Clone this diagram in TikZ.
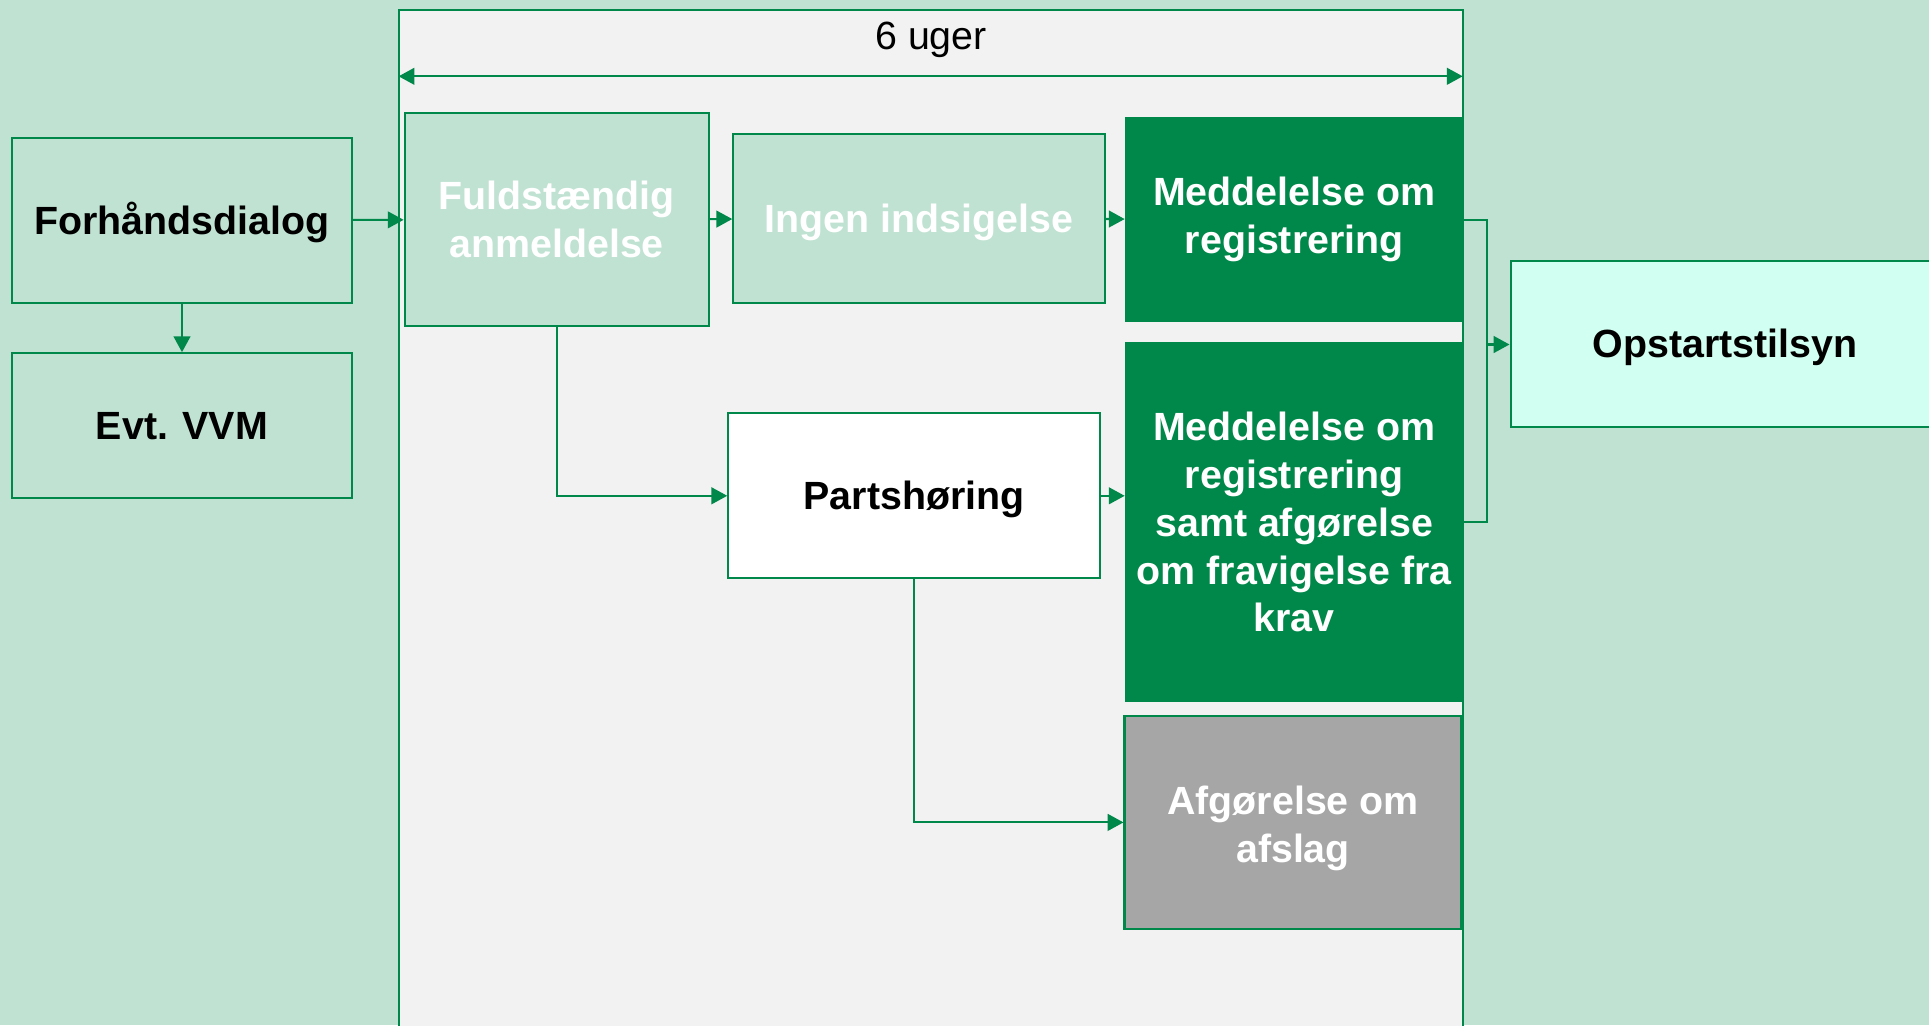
\documentclass[tikz,border=0pt]{standalone}
\usepackage{fontspec}
\setmainfont{Liberation Sans}
\usetikzlibrary{arrows.meta}

\definecolor{bggreen}{HTML}{BFE2D2}
\definecolor{panelgray}{HTML}{F2F2F2}
\definecolor{darkgreen}{HTML}{00884A}
\definecolor{linegreen}{HTML}{00884A}
\definecolor{rejectgray}{HTML}{A6A6A6}
\definecolor{mint}{HTML}{D1FFF1}

\newcommand{\boxfont}{\fontsize{22.4}{27.2}\selectfont}

\tikzset{
	box/.style={shape=rectangle, draw=linegreen, line width=1.2pt, align=center, inner sep=2pt, font=\boxfont\bfseries},
	oneline/.style={text height=16pt, text depth=0pt},
	arr/.style={-{Triangle[length=9pt,width=9.5pt]}, color=linegreen, line width=1.2pt},
	wire/.style={-, color=linegreen, line width=1.2pt},
}

\begin{document}
\begin{tikzpicture}[x=0.02cm, y=-0.02cm]
	
	\clip (0, 0) rectangle (1929, 1025);
	\fill[bggreen] (0, 0) rectangle (1929, 1025);
	
	\node[draw=linegreen, line width=1.2pt, fill=panelgray, minimum width=21.28cm, minimum height=20.60cm] (panel) at (930.65, 524.9) {};
	\node[font=\boxfont] (weeks) at (931, 40) {6 uger};
	
	\node[box, oneline, fill=bggreen, minimum width=6.79cm, minimum height=3.30cm] (forh) at (182, 220.2)    {Forhåndsdialog};
	\node[box, oneline, fill=bggreen, minimum width=6.79cm, minimum height=2.90cm] (vvm) at (182, 425.7)     {Evt. VVM};
	\node[box, fill=bggreen, text=white, minimum width=6.08cm, minimum height=4.26cm] (fuld) at (556.6, 219.6)   {Fuldstændig\\anmeldelse};
	\node[box, oneline, fill=bggreen, text=white, minimum width=7.43cm, minimum height=3.37cm] (ingen) at (919, 218.4)   {Ingen indsigelse};
	\node[box, draw=darkgreen, fill=darkgreen, text=white, minimum width=6.74cm, minimum height=4.06cm] (medd) at (1294.2, 219.6)   {Meddelelse om\\registrering};
	\node[box, draw=darkgreen, fill=darkgreen, text=white, minimum width=6.74cm, minimum height=7.16cm] (meddkrav) at (1294.2, 522.2)   {Meddelelse om\\registrering\\samt afgørelse\\om fravigelse fra\\krav};
	\node[box, oneline, fill=white, minimum width=7.43cm, minimum height=3.30cm] (parts) at (914, 495.8)     {Partshøring};
	\node[box, fill=rejectgray, text=white, minimum width=6.74cm, minimum height=4.26cm] (afslag) at (1293, 822.4)   {\rule{0pt}{23pt}Afgørelse om\\afslag};
	\node[box, oneline, fill=mint, minimum width=8.58cm, minimum height=3.32cm] (opstart) at (1725, 343.9)     {Opstartstilsyn};
	
	\coordinate (wl) at (398.6, 76.3);
	\coordinate (wr) at (1462.7, 76.3);
	\coordinate (bus) at (1487.3, 344.5);
	
	\draw[arr, {Triangle[length=9pt,width=9.5pt]}-{Triangle[length=9pt,width=9.5pt]}] (wl) -- (wr);
	
	\path[arr] (forh) edge (fuld);
	\path[arr] (forh) edge (vvm);
	\path[arr] (fuld) edge (ingen);
	\path[arr] (ingen) edge (medd);
	\draw[arr] (fuld) |- (parts);
	\draw[arr] (parts.east) -- (parts.east -| meddkrav.west);
	\draw[arr] (parts) |- (afslag);
	\draw[wire] (medd.east) -| (bus) |- (meddkrav.east);
	\draw[arr] (bus) -- (bus -| opstart.west);
	
\end{tikzpicture}
\end{document}
